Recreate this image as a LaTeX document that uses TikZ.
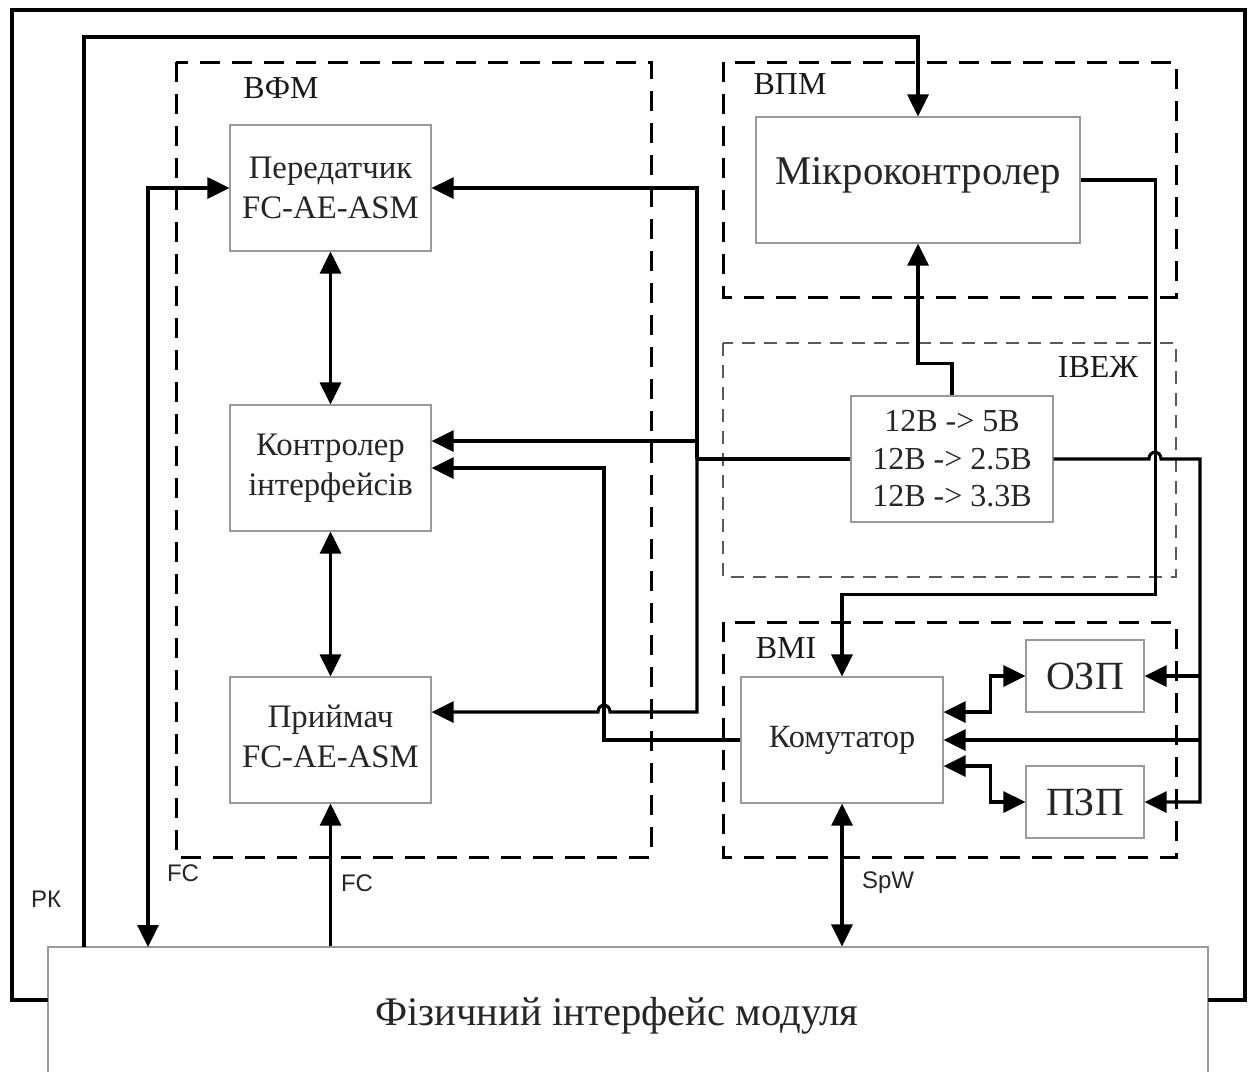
\documentclass[tikz,border=0pt]{standalone}
\usepackage{fontspec}
\setmainfont{Liberation Serif}
\newfontfamily\lsans{Liberation Sans}
\usetikzlibrary{arrows.meta,calc}
\tikzset{
  blk/.style={draw=black!40, line width=0.6pt, fill=white, text=black!85, align=center,
    font=\fontsize{16.4}{20}\selectfont, inner sep=0pt},
  ln/.style={line width=1.55pt, black},
  arr/.style={ln, -{Triangle[length=11pt,width=10.5pt]}},
  dbl/.style={ln, {Triangle[length=11pt,width=10.5pt]}-{Triangle[length=11pt,width=10.5pt]}},
  grp/.style={line width=1.5pt, dash pattern=on 10pt off 6pt},
  grpg/.style={line width=1pt, black!65, dash pattern=on 6.5pt off 4.5pt},
  glabel/.style={font=\fontsize{16}{18}\selectfont, text=black!90},
  slabel/.style={font=\lsans\fontsize{12}{14}\selectfont, text=black!85},
}
\begin{document}
\begin{tikzpicture}[x=0.5pt,y=-0.5pt]
\useasboundingbox (0,0) rectangle (1249,1072);
\clip (0,0) rectangle (1249,1072);

% group frames
\draw[grp] (176,62) rectangle (651,857);
\node[glabel] (lvfm) at (281,88) {ВФМ};
\draw[grp] (723,62) rectangle (1176,297);
\node[glabel] (lvpm) at (790,84) {ВПМ};
\draw[grpg] (723,343) rectangle (1176,577);
\node[glabel] (liv) at (1098,367) {ІВЕЖ};
\draw[grp] (723,622) rectangle (1176,857);
\node[glabel] (lvmi) at (786,648) {ВМІ};

% blocks
\node[blk, minimum width=100.5pt, minimum height=63pt] (tx) at (330.5,188) {Передатчик\\FC-AE-ASM};
\node[blk, minimum width=100.5pt, minimum height=63pt] (ctl) at (330.5,468) {Контролер\\інтерфейсів};
\node[blk, minimum width=100.5pt, minimum height=63pt, text depth=4pt] (rx) at (330.5,740) {Приймач\\FC-AE-ASM};
\node[blk, minimum width=162pt, minimum height=63pt, text depth=9.5pt, font=\fontsize{20.4}{24}\selectfont] (mcu) at (918,180) {Мікроконтролер};
\node[blk, minimum width=101pt, minimum height=63pt, font=\fontsize{16}{18.75}\selectfont] (conv) at (952,459) {12В -> 5В\\12В -> 2.5В\\12В -> 3.3В};
\node[blk, minimum width=101pt, minimum height=63pt, font=\fontsize{16.2}{18}\selectfont] (kom) at (842,740) {Комутатор};
\node[blk, minimum width=59pt, minimum height=36pt, font=\fontsize{20}{22}\selectfont] (ozp) at (1085,676) {ОЗП};
\node[blk, minimum width=59pt, minimum height=36pt, font=\fontsize{20}{22}\selectfont] (pzp) at (1085,802) {ПЗП};
\node[blk, minimum width=580pt, minimum height=69pt, font=\fontsize{20.3}{24}\selectfont] (phys) at (628,1016) {Фізичний інтерфейс модуля\hspace*{11pt}};

% outer frame
\coordinate (fL) at (48,1000);
\coordinate (fR) at (1208,1000);
\draw[ln] (fL) -| (12,10) -| (1245,1000) -- (fR);

% helper coordinates
\coordinate (ctlA) at ($(ctl.east)+(0,-27)$);
\coordinate (ctlB) at (ctl.east);
\coordinate (rxA) at ($(rx.east)+(0,-28)$);
\coordinate (fcA) at (148,947);
\coordinate (rk) at (84,947);
\coordinate (rkc) at (918,37);
\coordinate (bL) at (697,459);
\coordinate (kv) at (604,740);
\coordinate (bR) at (1200,459);

% connectors
\draw[dbl] (tx.west) -| (fcA);
\draw[arr] (rx.south |- phys.north) -- (rx.south);
\draw[dbl] (kom.south) -- (kom.south |- phys.north);
\draw[arr] (rk) |- (rkc) -- (mcu.north);
\draw[dbl] (tx.south) -- (ctl.north);
\draw[dbl] (ctl.south) -- (rx.north);

\draw[ln] (conv.west) -- (bL);
\draw[arr] (bL) |- (tx.east);
\draw[arr] (bL) |- (ctlA);
\draw[arr] (bL) |- ($(kv |- rxA)+(6,0)$) .. controls +(0,-9) and +(0,-9) .. ($(kv |- rxA)+(-6,0)$) -- (rxA);
\draw[arr] (kom.west) -- (kv) |- (ctlB);

\draw[arr] (conv.north) |- ($(mcu.south)+(0,120)$) -- (mcu.south);
\draw[arr] (mcu.east) -- ++(75,0) |- ($(kom.north)+(0,-82)$) -- (kom.north);

\draw[arr] (conv.east) -- (1149,459) .. controls +(0,-9) and +(0,-9) .. (1161,459) -- (bR) |- (pzp.east);
\draw[arr] (bR |- ozp.east) -- (ozp.east);
\draw[arr] (bR |- kom.east) -- (kom.east);
\draw[dbl] ($(kom.east)+(0,-28)$) -- ++(47,0) |- (ozp.west);
\draw[dbl] ($(kom.east)+(0,26)$) -- ++(47,0) |- (pzp.west);

% small labels
\node[slabel] (lfc1) at (183,873) {FC};
\node[slabel] (lfc2) at (357,883) {FC};
\node[slabel] (lspw) at (888,883) {SpW};
\node[slabel] (lrk) at (46,899) {РК};
\end{tikzpicture}
\end{document}
